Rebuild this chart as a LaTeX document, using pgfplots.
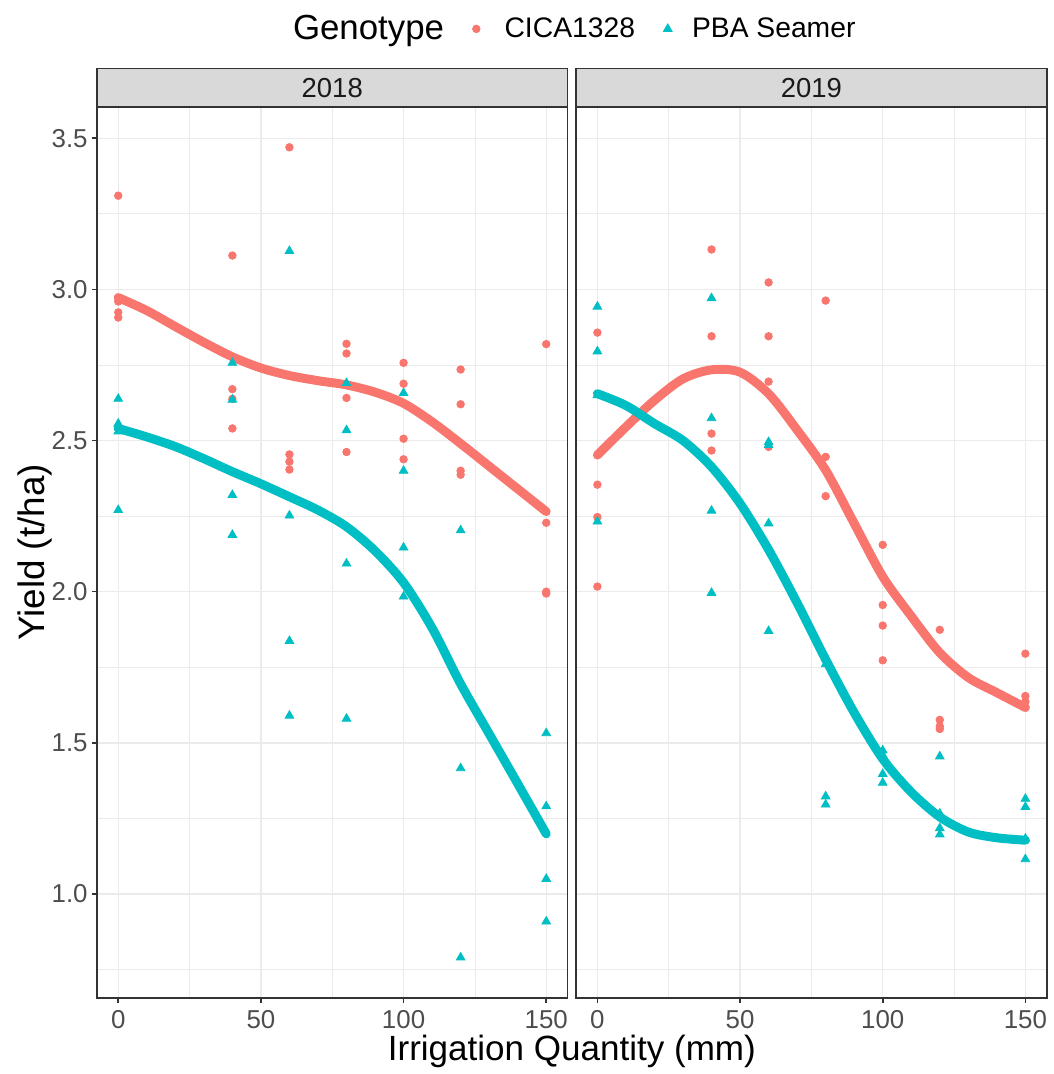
\documentclass[border=0pt]{standalone}
\usepackage{pgfplots}
\pgfplotsset{compat=1.18}
\usepackage{fontspec}
\setmainfont{Liberation Sans}
\definecolor{cica}{HTML}{F8766D}
\definecolor{pba}{HTML}{00BFC4}
\definecolor{grey10}{HTML}{1A1A1A}
\definecolor{grey20}{HTML}{333333}
\definecolor{grey30}{HTML}{4D4D4D}
\definecolor{grey85}{HTML}{D9D9D9}
\definecolor{grey92}{HTML}{EBEBEB}

\pgfplotstableread{
x y
0 3.31
0 2.96
0 2.924
0 2.907
40 3.112
40 2.67
40 2.638
40 2.54
60 3.47
60 2.454
60 2.43
60 2.404
80 2.82
80 2.788
80 2.641
80 2.462
100 2.757
100 2.688
100 2.506
100 2.438
120 2.735
120 2.62
120 2.40
120 2.387
150 2.819
150 2.228
150 2.0
150 1.994
}\cicaA
\pgfplotstableread{
x y
0 2.638
0 2.556
0 2.53
0 2.27
40 2.757
40 2.635
40 2.32
40 2.188
60 3.127
60 2.252
60 1.837
60 1.59
80 2.69
80 2.534
80 2.093
80 1.58
100 2.657
100 2.40
100 2.146
100 1.984
120 2.203
120 1.703
120 1.416
120 0.79
150 1.532
150 1.29
150 1.05
150 0.909
}\pbaA
\pgfplotstableread{
x y
0 2.857
0 2.354
0 2.247
0 2.017
40 3.132
40 2.845
40 2.523
40 2.467
60 3.023
60 2.845
60 2.695
60 2.479
80 2.963
80 2.446
80 2.404
80 2.316
100 2.155
100 1.956
100 1.888
100 1.773
120 1.874
120 1.576
120 1.555
120 1.546
150 1.795
150 1.655
150 1.636
150 1.617
}\cicaB
\pgfplotstableread{
x y
0 2.943
0 2.795
0 2.65
0 2.232
40 2.971
40 2.574
40 2.268
40 1.996
60 2.495
60 2.485
60 2.226
60 1.87
80 1.78
80 1.76
80 1.323
80 1.296
100 1.475
100 1.46
100 1.397
100 1.368
120 1.455
120 1.266
120 1.218
120 1.197
150 1.315
150 1.288
150 1.183
150 1.115
}\pbaB
\pgfplotstableread{
x y
0 2.973
10 2.93
20 2.877
30 2.825
40 2.777
50 2.74
60 2.715
70 2.698
80 2.684
90 2.66
100 2.623
110 2.562
120 2.49
130 2.415
140 2.34
150 2.265
}\cicaAfit
\pgfplotstableread{
x y
0 2.54
10 2.512
20 2.48
30 2.44
40 2.397
50 2.357
60 2.314
70 2.27
80 2.215
90 2.135
100 2.03
110 1.88
120 1.695
130 1.53
140 1.365
150 1.199
}\pbaAfit
\pgfplotstableread{
x y
0 2.452
10 2.545
20 2.633
30 2.704
40 2.734
50 2.726
60 2.655
70 2.535
80 2.402
90 2.226
100 2.05
110 1.919
120 1.798
130 1.716
140 1.666
150 1.617
}\cicaBfit
\pgfplotstableread{
x y
0 2.655
10 2.616
20 2.556
30 2.50
40 2.413
50 2.292
60 2.139
70 1.963
80 1.776
90 1.60
100 1.447
110 1.337
120 1.255
130 1.205
140 1.186
150 1.178
}\pbaBfit

\pgfplotsset{
  panel/.style={
    scale only axis, width=236.5pt, height=447.7pt,
    xmin=-7.5, xmax=157.5, ymin=0.656, ymax=3.604,
    xtick={0,50,100,150}, minor xtick={25,75,125},
    ytick={1,1.5,2,2.5,3,3.5}, minor ytick={0.75,1.25,1.75,2.25,2.75,3.25},
    grid=both,
    major grid style={grey92, line width=0.7pt},
    minor grid style={grey92, line width=0.35pt},
    axis line style={grey20, line width=0.8pt},
    tick align=outside, major tick length=2.6pt, minor tick length=0pt,
    tick style={grey20, line width=0.8pt},
    xtick pos=bottom, ytick pos=left,
    tick label style={font=\fontsize{13}{15}\selectfont, text=grey30},
    /pgf/number format/assume math mode=true,
    yticklabel style={xshift=1.5pt, /pgf/number format/.cd, fixed, fixed zerofill, precision=1},
    label style={font=\fontsize{17.6}{21}\selectfont, text=black},
  },
  cpts/.style={only marks, mark=*, mark size=1.9pt, color=cica, mark options={draw=none, fill=cica},
    legend image code/.code={\draw[##1] plot coordinates {(0pt,0pt)}; \path (12pt,0pt);}},
  ppts/.style={only marks, mark=triangle*, mark size=2.5pt, color=pba, mark options={draw=none, fill=pba},
    legend image code/.code={\draw[##1] plot coordinates {(0pt,0pt)}; \path (10pt,0pt);}},
  fitline/.style={no markers, smooth, line width=4.5pt, line cap=round, line join=round},
}

\begin{document}
\begin{tikzpicture}
\begin{axis}[panel, name=L, at={(0pt,0pt)}, anchor=south west,
  xlabel={Irrigation Quantity (mm)}, ylabel={Yield (t/ha)},
  xlabel style={at={(axis description cs:1.009,-0.0595)}, anchor=center},
  ylabel style={at={(axis description cs:-0.1317,0.5)}, anchor=center, font=\fontsize{18.5}{22}\selectfont},
  legend style={at={(axis description cs:1.014,1.0874)}, anchor=center, draw=none, fill=none,
    legend columns=-1, font=\fontsize{14.2}{17}\selectfont,
    /tikz/every even column/.append style={column sep=12.3pt}},
]
\addlegendimage{empty legend}
\addlegendentry{\fontsize{17.5}{20}\selectfont Genotype\hspace{-8.5pt}}
\addplot[cpts] table {\cicaA};
\addlegendentry{CICA1328}
\addplot[ppts] table {\pbaA};
\addlegendentry{PBA Seamer}
\addplot[fitline, cica, forget plot] table {\cicaAfit};
\addplot[fitline, pba, forget plot] table {\pbaAfit};
\end{axis}
\begin{axis}[panel, name=R, at={(240.7pt,0pt)}, anchor=south west,
  yticklabels={}, ytick style={draw=none}]
\addplot[cpts] table {\cicaB};
\addplot[ppts] table {\pbaB};
\addplot[fitline, cica] table {\cicaBfit};
\addplot[fitline, pba] table {\pbaBfit};
\end{axis}
\draw[fill=grey85, draw=grey20, line width=0.8pt] (L.north west) rectangle ([yshift=19.15pt]L.north east);
\draw[fill=grey85, draw=grey20, line width=0.8pt] (R.north west) rectangle ([yshift=19.15pt]R.north east);
\node[font=\fontsize{13.8}{16}\selectfont, text=grey10] at ([yshift=9.6pt]L.north) {2018};
\node[font=\fontsize{13.8}{16}\selectfont, text=grey10] at ([yshift=9.6pt]R.north) {2019};
\path (-48.65pt,-35.65pt) rectangle (479.35pt,501.35pt);
\end{tikzpicture}
\end{document}
